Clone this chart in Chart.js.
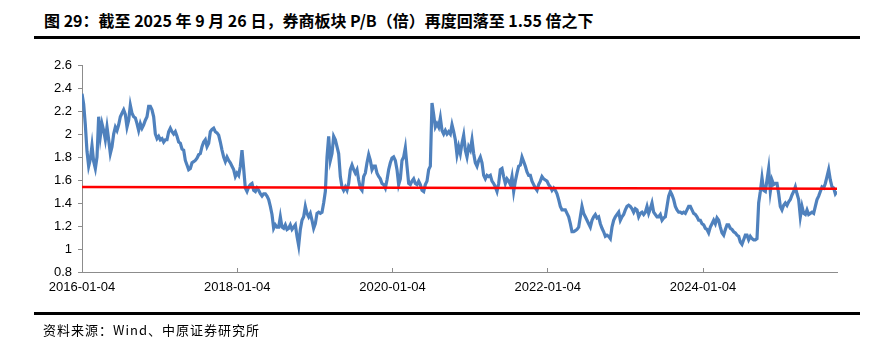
<!DOCTYPE html>
<html>
<head>
<meta charset="utf-8">
<script src="https://cdn.jsdelivr.net/npm/chart.js@4.4.1/dist/chart.umd.min.js"></script>
<style>
  body { margin: 0; background: #fff; }
  #wrap { position: relative; width: 877px; height: 341px; overflow: hidden; }
  #title { position: absolute; left: 44px; top: 8px; font: bold 16px "Noto Sans CJK SC", sans-serif; color: #000; white-space: nowrap; }
  .rule { position: absolute; left: 34px; width: 826px; height: 3px; background: #000; }
  #source { position: absolute; left: 43px; top: 320px; font: 13px "Noto Sans CJK SC", sans-serif; letter-spacing: 1px; color: #000; white-space: nowrap; }
  canvas { position: absolute; left: 0; top: 0; }
</style>
</head>
<body>
<div id="wrap">
  <div id="title">图 29：截至 2025 年 9 月 26 日，券商板块 P/B（倍）再度回落至 1.55 倍之下</div>
  <div class="rule" style="top:36px"></div>
  <canvas id="pbChart" width="877" height="341"></canvas>
  <div class="rule" style="top:312px"></div>
  <div id="source">资料来源：Wind、中原证券研究所</div>
</div>
<script>
// P/B of the broker sector, sampled evenly from 2016-01-04 to 2025-09-26
const startDate = '2016-01-04';
const endDate = '2025-09-26';

const pbValues = [
  // 2016 - 2017
  2.35, 2.26, 2.08, 1.85, 1.72, 1.78, 1.90, 1.76, 1.70, 1.80,
  2.15, 1.98, 2.09, 2.03, 1.95, 2.06, 1.95, 1.83, 1.89, 2.00,
  2.06, 2.03, 2.08, 2.15, 2.18, 2.21, 2.17, 2.06, 2.12, 2.25,
  2.18, 2.15, 2.14, 2.09, 2.03, 2.09, 2.05, 2.08, 2.12, 2.15,
  2.24, 2.24, 2.21, 2.15, 2.00, 1.96, 1.98, 1.95, 1.96, 1.93,
  1.95, 1.95, 2.02, 2.05, 2.02, 2.00, 2.02, 1.98, 1.93, 1.92,
  1.87, 1.86, 1.77, 1.73, 1.69, 1.70, 1.75, 1.76, 1.77, 1.79,
  1.82,
  // 2017 - 2019
  1.83, 1.89, 1.93, 1.95, 1.89, 1.92, 2.02, 2.04, 2.05, 2.02,
  2.01, 1.99, 1.93, 1.86, 1.80, 1.76, 1.80, 1.77, 1.75, 1.72,
  1.69, 1.63, 1.66, 1.64, 1.72, 1.86, 1.70, 1.53, 1.50, 1.54,
  1.56, 1.57, 1.51, 1.50, 1.53, 1.51, 1.48, 1.46, 1.48, 1.48,
  1.46, 1.43, 1.37, 1.30, 1.18, 1.21, 1.19, 1.19, 1.28, 1.19,
  1.18, 1.21, 1.17, 1.18, 1.21, 1.17, 1.19, 1.21, 1.11, 1.03,
  1.17, 1.25, 1.28, 1.37, 1.31, 1.28, 1.31, 1.25, 1.18, 1.22,
  1.31, 1.32, 1.31, 1.32, 1.40,
  // 2019 - 2020
  1.50, 1.80, 1.98, 1.77, 1.83, 1.98, 1.95, 1.89, 1.83, 1.63,
  1.54, 1.51, 1.54, 1.51, 1.57, 1.69, 1.73, 1.69, 1.66, 1.69,
  1.60, 1.53, 1.51, 1.63, 1.66, 1.75, 1.82, 1.77, 1.69, 1.72,
  1.72, 1.66, 1.63, 1.61, 1.57, 1.56, 1.53, 1.60, 1.69, 1.75,
  1.79, 1.80, 1.77, 1.69, 1.56, 1.61, 1.77, 1.80, 1.88, 1.72,
  1.57, 1.56, 1.59, 1.61, 1.57, 1.56, 1.59, 1.56, 1.51, 1.50,
  1.56, 1.59, 1.69, 1.72, 2.27, 2.17, 2.06, 2.09, 2.06, 2.14,
  2.03, 2.00, 2.03, 2.00, 2.02,
  // 2020 - 2022
  2.00, 2.08, 2.02, 1.95, 1.82, 1.89, 1.83, 1.92, 1.99, 1.86,
  1.80, 1.89, 1.86, 1.95, 1.83, 1.75, 1.72, 1.77, 1.80, 1.75,
  1.64, 1.61, 1.64, 1.63, 1.64, 1.59, 1.57, 1.54, 1.50, 1.57,
  1.69, 1.70, 1.63, 1.57, 1.61, 1.59, 1.56, 1.63, 1.50, 1.59,
  1.66, 1.72, 1.73, 1.80, 1.76, 1.72, 1.67, 1.64, 1.64, 1.59,
  1.56, 1.53, 1.51, 1.56, 1.59, 1.63, 1.61, 1.60, 1.59, 1.56,
  1.54, 1.51, 1.53, 1.51, 1.48, 1.43, 1.37, 1.34, 1.34, 1.34,
  1.31, 1.28, 1.22, 1.15, 1.15,
  // 2022 - 2024
  1.16, 1.17, 1.19, 1.28, 1.37, 1.31, 1.28, 1.25, 1.22, 1.19,
  1.25, 1.28, 1.30, 1.27, 1.28, 1.22, 1.18, 1.15, 1.11, 1.12,
  1.11, 1.09, 1.19, 1.25, 1.28, 1.30, 1.32, 1.25, 1.28, 1.30,
  1.34, 1.37, 1.38, 1.37, 1.35, 1.32, 1.35, 1.34, 1.28, 1.31,
  1.32, 1.30, 1.32, 1.37, 1.31, 1.35, 1.40, 1.32, 1.30, 1.28,
  1.28, 1.30, 1.25, 1.27, 1.28, 1.37, 1.46, 1.50, 1.47, 1.43,
  1.37, 1.34, 1.32, 1.32, 1.31, 1.32, 1.31, 1.34, 1.37, 1.37,
  1.34, 1.31, 1.30, 1.28, 1.25,
  // 2024 - 2025-09
  1.25, 1.22, 1.21, 1.18, 1.17, 1.14, 1.19, 1.22, 1.25, 1.22,
  1.27, 1.25, 1.19, 1.14, 1.12, 1.17, 1.21, 1.21, 1.18, 1.17,
  1.15, 1.14, 1.12, 1.11, 1.06, 1.04, 1.08, 1.12, 1.12, 1.08,
  1.11, 1.09, 1.08, 1.08, 1.09, 1.40, 1.50, 1.62, 1.51, 1.50,
  1.60, 1.70, 1.50, 1.60, 1.56, 1.57, 1.57, 1.48, 1.37, 1.34,
  1.38, 1.40, 1.38, 1.41, 1.43, 1.47, 1.50, 1.54, 1.48, 1.43,
  1.28, 1.37, 1.31, 1.30, 1.34, 1.30, 1.31, 1.32, 1.31, 1.37,
  1.43, 1.46, 1.50, 1.54, 1.53, 1.57, 1.63, 1.69, 1.60, 1.54,
  1.53, 1.48, 1.50
];

// red reference line, value at start and at end
const refLine = [1.54, 1.525];

const xTickLabels = ['2016-01-04', '2018-01-04', '2020-01-04', '2022-01-04', '2024-01-04'];
const yTicks = [0.8, 1, 1.2, 1.4, 1.6, 1.8, 2, 2.2, 2.4, 2.6];

function toYear(s) {
    let d = new Date(s + 'T00:00:00Z');
    let y = d.getUTCFullYear();
    let t0 = Date.UTC(y, 0, 1), t1 = Date.UTC(y + 1, 0, 1);
    return y + (d.getTime() - t0) / (t1 - t0);
}

const x0 = toYear(startDate);
const x1 = toYear(endDate);
const step = (x1 - x0) / (pbValues.length - 1);
const pbPoints = pbValues.map((v, i) => ({ x: x0 + i * step, y: v }));
const refPoints = [{ x: x0, y: refLine[0] }, { x: x1, y: refLine[1] }];

const axisGrey = '#8c8c8c';
const tickFont = { family: '"Liberation Sans", Arial, sans-serif', size: 13 };

new Chart(document.getElementById('pbChart'), {
    type: 'line',
    data: {
        datasets: [{
            data: refPoints,
            borderColor: '#ff0000',
            borderWidth: 2.5,
            pointRadius: 0
        }, {
            data: pbPoints,
            borderColor: '#4f81bd',
            borderWidth: 3.2,
            pointRadius: 0,
            tension: 0
        }]
    },
    options: {
        responsive: false,
        animation: false,
        devicePixelRatio: 1,
        layout: { padding: { left: 0, top: 65, right: 40, bottom: 0 } },
        plugins: {
            legend: { display: false },
            tooltip: { enabled: false }
        },
        scales: {
            x: {
                type: 'linear',
                min: x0,
                max: x1,
                afterFit: s => { s.height = 69; },
                afterBuildTicks: s => { s.ticks = xTickLabels.map(l => ({ value: toYear(l) })); },
                border: { color: axisGrey, width: 1 },
                grid: { drawOnChartArea: false, tickLength: -4, color: axisGrey },
                ticks: {
                    padding: 12,
                    maxRotation: 0,
                    autoSkip: false,
                    color: '#000',
                    font: tickFont,
                    callback: (v, i) => xTickLabels[i]
                }
            },
            y: {
                min: 0.8,
                max: 2.6,
                afterFit: s => { s.width = 82; },
                afterBuildTicks: s => { s.ticks = yTicks.map(v => ({ value: v })); },
                border: { color: axisGrey, width: 1 },
                grid: { drawOnChartArea: false, tickLength: 4, color: axisGrey },
                ticks: {
                    padding: 6,
                    color: '#000',
                    font: tickFont,
                    callback: (v, i) => String(yTicks[i])
                }
            }
        }
    }
});
</script>
</body>
</html>
